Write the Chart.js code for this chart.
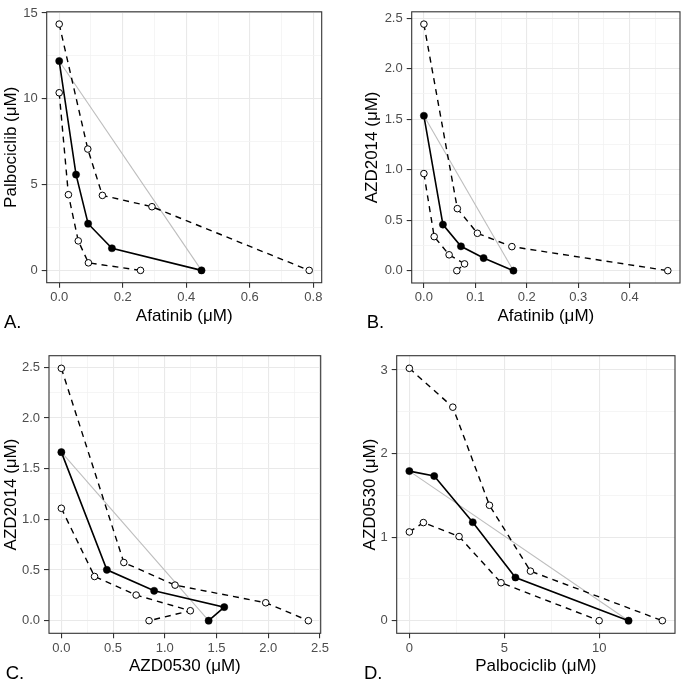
<!DOCTYPE html>
<html>
<head>
<meta charset="utf-8">
<script src="https://cdn.jsdelivr.net/npm/chart.js@4.4.1/dist/chart.umd.min.js"></script>
<style>
  html, body { margin: 0; padding: 0; background: #fff; }
  #wrap { position: relative; width: 685px; height: 681px; }
  canvas { position: absolute; }
</style>
</head>
<body>
<div id="wrap">
  <canvas id="pA" width="340" height="340" style="left:0;top:0"></canvas>
  <canvas id="pB" width="345" height="340" style="left:340px;top:0"></canvas>
  <canvas id="pC" width="340" height="341" style="left:0;top:340px"></canvas>
  <canvas id="pD" width="345" height="341" style="left:340px;top:340px"></canvas>
</div>
<script>
// A: Afatinib vs Palbociclib
const aMedX = [0, 0.053, 0.091, 0.166, 0.448];
const aMedY = [12.2, 5.58, 2.72, 1.29, 0];
const aUpX = [0, 0.090, 0.136, 0.292, 0.787];
const aUpY = [14.35, 7.07, 4.37, 3.71, 0];
const aLoX = [0, 0.029, 0.060, 0.092, 0.256];
const aLoY = [10.35, 4.41, 1.72, 0.44, 0];
const aXTicks = [0, 0.2, 0.4, 0.6, 0.8];
const aYTicks = [0, 5, 10, 15];

// B: Afatinib vs AZD2014
const bMedX = [0, 0.037, 0.072, 0.116, 0.174];
const bMedY = [1.533, 0.456, 0.241, 0.125, 0];
const bUpX = [0, 0.065, 0.104, 0.171, 0.474];
const bUpY = [2.44, 0.614, 0.37, 0.238, 0];
const bLoX = [0, 0.020, 0.049, 0.079, 0.064];
const bLoY = [0.961, 0.337, 0.157, 0.067, 0];
const bXTicks = [0, 0.1, 0.2, 0.3, 0.4];
const bYTicks = [0, 0.5, 1, 1.5, 2, 2.5];

// C: AZD0530 vs AZD2014
const cMedX = [0, 0.44, 0.897, 1.575, 1.424];
const cMedY = [1.663, 0.502, 0.295, 0.134, 0];
const cUpX = [0, 0.604, 1.099, 1.976, 2.388];
const cUpY = [2.49, 0.574, 0.351, 0.177, 0];
const cLoX = [0, 0.321, 0.723, 1.247, 0.848];
const cLoY = [1.109, 0.436, 0.253, 0.098, 0];
const cXTicks = [0, 0.5, 1, 1.5, 2, 2.5];
const cYTicks = [0, 0.5, 1, 1.5, 2, 2.5];

// D: Palbociclib vs AZD0530
const dMedX = [0, 1.31, 3.34, 5.59, 11.55];
const dMedY = [1.79, 1.731, 1.178, 0.517, 0];
const dUpX = [0, 2.29, 4.22, 6.38, 13.33];
const dUpY = [3.02, 2.555, 1.381, 0.593, 0];
const dLoX = [0, 0.74, 2.62, 4.83, 10.0];
const dLoY = [1.062, 1.174, 1.007, 0.454, 0];
const dXTicks = [0, 5, 10];
const dYTicks = [0, 1, 2, 3];

Chart.defaults.font.family = '"Liberation Sans", Arial, sans-serif';
Chart.defaults.animation = false;

const pts = (xs, ys) => xs.map((x, i) => ({ x: x, y: ys[i] }));

// ggplot-ish 5% expansion
function expand(arrs) {
  const all = [].concat(...arrs);
  const mn = Math.min(...all), mx = Math.max(...all);
  const r = mx - mn;
  return [mn - 0.05 * r, mx + 0.05 * r];
}

const frame = {
  id: 'frame',
  afterDatasetsDraw(chart, args, o) {
    const { ctx, chartArea: a } = chart;
    ctx.save();
    ctx.strokeStyle = '#333333';
    ctx.lineWidth = 1.1;
    ctx.strokeRect(a.left, a.top, a.right - a.left, a.bottom - a.top);
    ctx.fillStyle = '#000';
    ctx.font = '18.5px "Liberation Sans", Arial, sans-serif';
    ctx.textBaseline = 'alphabetic';
    ctx.textAlign = 'left';
    ctx.fillText(o.letter, o.lx, o.ly);
    ctx.restore();
  }
};

function axis(isX, majors, dec, range, size, title, pad) {
  const step = majors[1] - majors[0];
  const ticks = [];
  for (let v = majors[0] - step / 2; v <= range[1] + 1e-9; v += step / 2) {
    if (v >= range[0]) ticks.push(Math.round(v * 1e6) / 1e6);
  }
  const isMajor = v => majors.some(m => Math.abs(m - v) < 1e-6);
  return {
    type: 'linear',
    position: isX ? 'bottom' : 'left',
    min: range[0], max: range[1],
    bounds: 'data',
    afterBuildTicks: s => { s.ticks = ticks.map(v => ({ value: v })); },
    afterFit: s => { if (isX) s.height = size; else s.width = size; },
    border: { display: false },
    grid: {
      color: c => (c.tick && isMajor(c.tick.value)) ? '#e9e9e9' : '#f3f3f3',
      lineWidth: c => (c.tick && isMajor(c.tick.value)) ? 1.1 : 0.8,
      tickColor: c => (c.tick && isMajor(c.tick.value)) ? '#333333' : 'rgba(0,0,0,0)',
      tickLength: 5,
      tickWidth: 1.1
    },
    ticks: {
      autoSkip: false, maxRotation: 0, minRotation: 0,
      color: '#4d4d4d', font: { size: 13 },
      padding: isX ? 2 : 4,
      callback: v => isMajor(v) ? Number(v).toFixed(dec) : ''
    },
    title: {
      display: true, text: title, color: '#000',
      font: { size: 17, lineHeight: 1.2 },
      padding: isX ? { top: 0, bottom: pad } : { top: pad, bottom: 0 }
    }
  };
}

function panel(id, s) {
  const range = {
    x: expand([s.medX, s.upX, s.loX]),
    y: expand([s.medY, s.upY, s.loY])
  };
  const n = s.medX.length - 1;
  const additive = [{ x: s.medX[0], y: s.medY[0] }, { x: s.medX[n], y: s.medY[n] }];
  new Chart(document.getElementById(id), {
    type: 'scatter',
    data: {
      datasets: [
        { data: pts(s.medX, s.medY), showLine: true, borderColor: '#000', borderWidth: 1.6,
          pointRadius: 3.6, pointBackgroundColor: '#000', pointBorderColor: '#000', pointBorderWidth: 0.5 },
        { data: pts(s.upX, s.upY), showLine: true, borderColor: '#000', borderWidth: 1.4, borderDash: [6, 5],
          pointRadius: 3.3, pointBackgroundColor: '#fff', pointBorderColor: '#000', pointBorderWidth: 1 },
        { data: pts(s.loX, s.loY), showLine: true, borderColor: '#000', borderWidth: 1.4, borderDash: [6, 5],
          pointRadius: 3.3, pointBackgroundColor: '#fff', pointBorderColor: '#000', pointBorderWidth: 1 },
        { data: additive, showLine: true, borderColor: '#bdbdbd', borderWidth: 1.1, pointRadius: 0 }
      ]
    },
    options: {
      responsive: false,
      devicePixelRatio: 1,
      layout: { padding: s.pad },
      plugins: {
        legend: { display: false },
        tooltip: { enabled: false },
        frame: { letter: s.letter, lx: s.lx, ly: s.ly }
      },
      scales: {
        x: axis(true, s.xTicks, s.xDec, range.x, s.xH, s.xTitle, s.xPad),
        y: axis(false, s.yTicks, s.yDec, range.y, s.yW, s.yTitle, s.yPad)
      }
    },
    plugins: [frame]
  });
}

panel('pA', {
  medX: aMedX, medY: aMedY, upX: aUpX, upY: aUpY, loX: aLoX, loY: aLoY,
  xTicks: aXTicks, yTicks: aYTicks, xDec: 1, yDec: 0,
  xTitle: 'Afatinib (μM)', yTitle: 'Palbociclib (μM)',
  pad: { left: 0, top: 5, right: 18.3, bottom: 0 }, yW: 46.7, xH: 57.3, xPad: 13.8, yPad: 1.5,
  letter: 'A.', lx: 4, ly: 328.3
});
panel('pB', {
  medX: bMedX, medY: bMedY, upX: bUpX, upY: bUpY, loX: bLoX, loY: bLoY,
  xTicks: bXTicks, yTicks: bYTicks, xDec: 1, yDec: 1,
  xTitle: 'Afatinib (μM)', yTitle: 'AZD2014 (μM)',
  pad: { left: 0, top: 5, right: 1.7, bottom: 0 }, yW: 71.7, xH: 57, xPad: 13.8, yPad: 21.8,
  letter: 'B.', lx: 26.7, ly: 328.3
});
panel('pC', {
  medX: cMedX, medY: cMedY, upX: cUpX, upY: cUpY, loX: cLoX, loY: cLoY,
  xTicks: cXTicks, yTicks: cYTicks, xDec: 1, yDec: 1,
  xTitle: 'AZD0530 (μM)', yTitle: 'AZD2014 (μM)',
  pad: { left: 0, top: 15.7, right: 19.3, bottom: 0 }, yW: 49, xH: 47.7, xPad: 4.1, yPad: 1.1,
  letter: 'C.', lx: 5.7, ly: 339.3
});
panel('pD', {
  medX: dMedX, medY: dMedY, upX: dUpX, upY: dUpY, loX: dLoX, loY: dLoY,
  xTicks: dXTicks, yTicks: dYTicks, xDec: 0, yDec: 0,
  xTitle: 'Palbociclib (μM)', yTitle: 'AZD0530 (μM)',
  pad: { left: 0, top: 15.7, right: 10, bottom: 0 }, yW: 56.7, xH: 47.7, xPad: 4.1, yPad: 19.8,
  letter: 'D.', lx: 24, ly: 339.3
});
</script>
</body>
</html>
